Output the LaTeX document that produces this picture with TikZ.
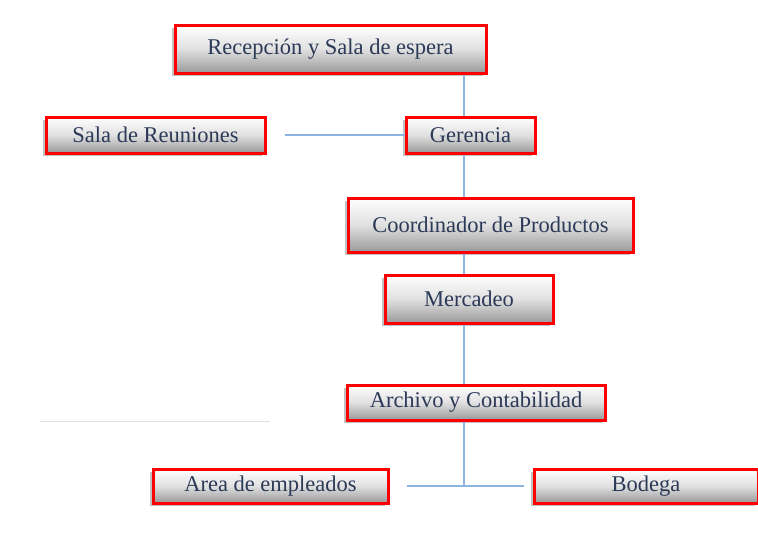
\documentclass[tikz,border=0pt]{standalone}
\usepackage{fontspec}
\setmainfont{Liberation Serif}
\usepackage{xcolor}
\usetikzlibrary{positioning,shadows}
\definecolor{txtblue}{HTML}{2C3A58}
\definecolor{linkblue}{HTML}{8DB3E2}
\definecolor{framered}{HTML}{FF0000}

\begin{document}
\begin{tikzpicture}[
  x=1pt,
  y=-1pt,
  every node/.style={font=\fontsize{22.5}{26}\selectfont, text=txtblue},
  unit/.style={rectangle, draw=framered, line width=3pt, top color=white, bottom color=black!40, middle color=black!12,
    drop shadow={shadow xshift=-3pt, shadow yshift=-3pt, fill=black!30, opacity=0.8}, inner sep=0pt},
  link/.style={draw=linkblue, line width=1.3pt},
  faint/.style={draw=black!12, line width=1pt}
]
\useasboundingbox (0,0) rectangle (758,533);
\fill[white] (0,0) rectangle (758,533);
\coordinate (jn) at (464,487);
% boxes
\node[unit, minimum width=311, minimum height=48] (rec) at (330.5,49) {Recepción y Sala de espera};
\node[unit, minimum width=219, minimum height=36] (sala) at (155.5,135) {Sala de Reuniones};
\node[unit, minimum width=129, minimum height=36] (ger) at (470.5,135) {Gerencia};
\node[unit, minimum width=285, minimum height=54] (coord) at (490.5,225) {Coordinador de Productos};
\node[unit, minimum width=168, minimum height=48] (merc) at (469,299) {Mercadeo};
\node[unit, minimum width=258, minimum height=35] (arch) at (476,402.5) {Archivo y Contabilidad};
\node[unit, minimum width=235, minimum height=34] (area) at (270.5,486) {Area de empleados};
\node[unit, minimum width=224, minimum height=34] (bod) at (646,486) {Bodega};
% connectors
\draw[link] (rec.south -| jn) -- (ger.north -| jn);
\draw[link] (ger.south -| jn) -- (coord.north -| jn);
\draw[link] (coord.south -| jn) -- (merc.north -| jn);
\draw[link] (merc.south -| jn) -- (arch.north -| jn);
\draw[link] (arch.south -| jn) -- (jn);
\draw[link, shorten <=18pt] (sala.east) -- (ger.west);
\draw[link, shorten <=17pt, shorten >=9pt] (area.east) -- (bod.west);
% stray rule lines
\draw[faint] (40,421) -- (270,421);
\end{tikzpicture}
\end{document}
